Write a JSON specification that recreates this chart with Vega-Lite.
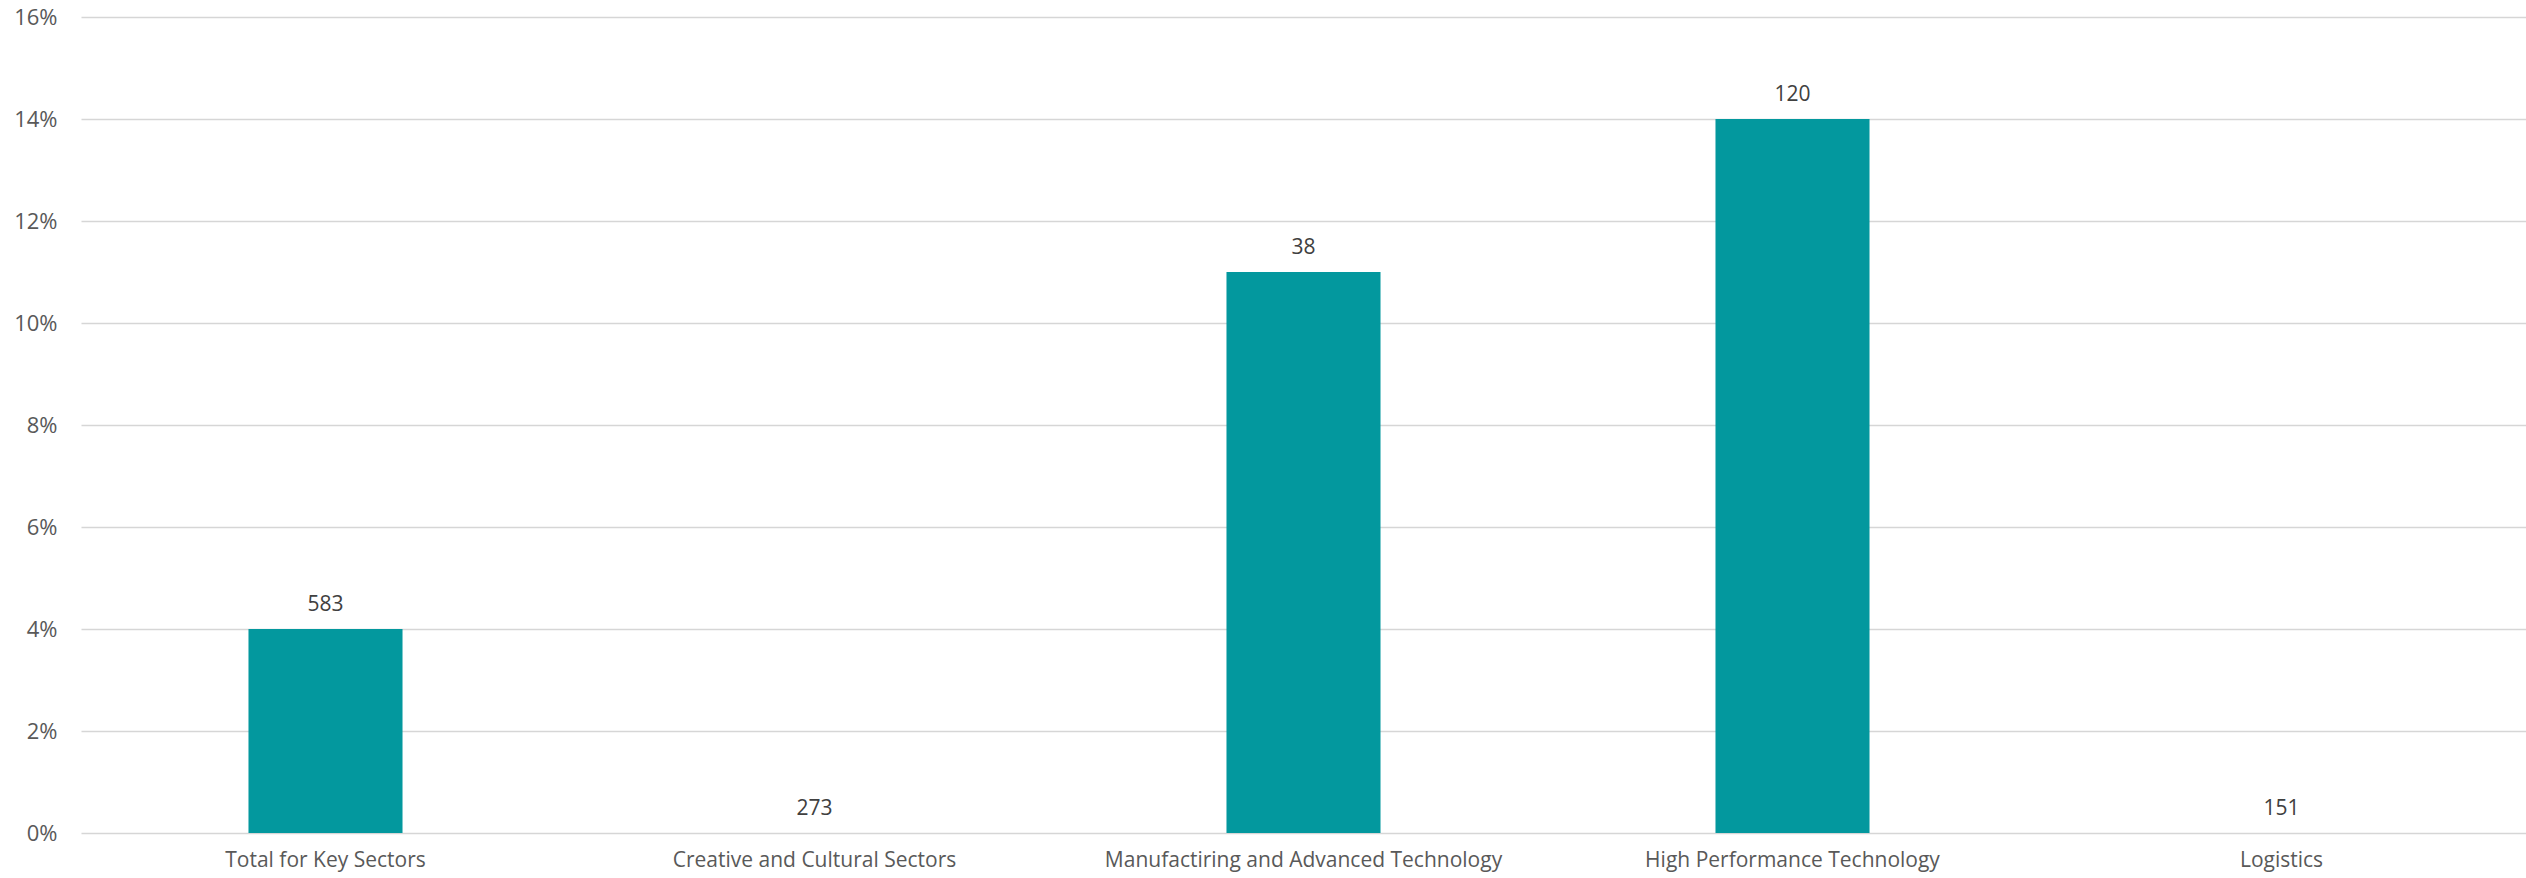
{
  "$schema": "https://vega.github.io/schema/vega-lite/v6.json",
  "autosize": "none",
  "width": 2445,
  "height": 816,
  "padding": {"left": 81, "top": 17, "right": 0, "bottom": 45},
  "background": "white",
  "config": {"view": {"stroke": null}, "font": "Open Sans"},
  "data": {"values": [
    {"sector": "Total for Key Sectors", "pct": 0.04, "n": "583"},
    {"sector": "Creative and Cultural Sectors", "pct": 0.0, "n": "273"},
    {"sector": "Manufactiring and Advanced Technology", "pct": 0.11, "n": "38"},
    {"sector": "High Performance Technology", "pct": 0.14, "n": "120"},
    {"sector": "Logistics", "pct": 0.0, "n": "151"}
  ]},
  "encoding": {
    "x": {"field": "sector", "type": "nominal", "sort": null,
      "scale": {"paddingInner": 0.685, "paddingOuter": 0.3425},
      "axis": {"title": null, "labelAngle": 0, "domain": false, "ticks": false, "labelPadding": 16, "labelFontSize": 21, "labelColor": "#595959", "labelFont": "Open Sans", "labelLimit": 0}},
    "y": {"field": "pct", "type": "quantitative",
      "scale": {"domain": [0, 0.16]},
      "axis": {"title": null, "values": [0, 0.02, 0.04, 0.06, 0.08, 0.1, 0.12, 0.14, 0.16], "format": ".0%", "domain": false, "ticks": false, "labelPadding": 24, "labelFontSize": 22, "labelColor": "#595959", "gridColor": "#d6d6d6", "gridWidth": 1.5, "labelFont": "Open Sans"}}
  },
  "layer": [
    {"mark": {"type": "bar", "color": "#03989E"}},
    {"mark": {"type": "text", "baseline": "bottom", "dy": -14, "fontSize": 21, "color": "#404040", "font": "Open Sans"},
      "encoding": {"text": {"field": "n"}}}
  ]
}
